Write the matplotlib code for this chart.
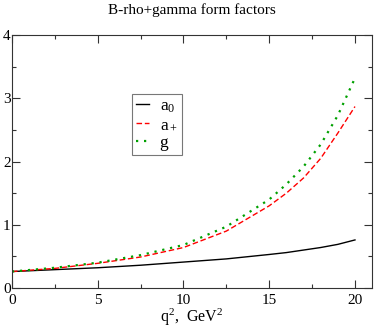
import numpy as np
import matplotlib
matplotlib.use("Agg")
import matplotlib.pyplot as plt
from matplotlib.ticker import MultipleLocator

plt.rcParams['font.family'] = ['Liberation Serif', 'DejaVu Serif']
plt.rcParams['mathtext.fontset'] = 'custom'
plt.rcParams['mathtext.rm'] = 'Liberation Serif'
plt.rcParams['mathtext.it'] = 'Liberation Serif'

# q^2 values (GeV^2) and form factors
q2 = [0, 2.5, 5, 7.5, 10, 12.5, 15, 16, 17, 18, 19, 20]
a0 = [0.26, 0.29, 0.32, 0.36, 0.41, 0.46, 0.53, 0.56, 0.60, 0.64, 0.69, 0.76]
aplus = [0.26, 0.31, 0.39, 0.49, 0.64, 0.90, 1.30, 1.50, 1.74, 2.05, 2.45, 2.87]
g = [0.26, 0.32, 0.40, 0.52, 0.68, 0.97, 1.40, 1.64, 1.92, 2.27, 2.73, 3.32]

fig = plt.figure(figsize=(3.74, 3.28), dpi=100)
ax = fig.add_axes([0.032, 0.122, 0.963, 0.771])

ax.plot(q2, a0, color='black', lw=1.0, label='a$_0$')
ax.plot(q2, aplus, color='red', lw=1.0, ls=(0, (4, 2)), label='a$_+$')
ax.plot(q2, g, color='#00a000', lw=1.6, ls=(0, (1, 2.6)), label='g')

ax.set_xlim(0, 21)
ax.set_ylim(0, 4)
ax.xaxis.set_major_locator(MultipleLocator(5))
ax.xaxis.set_minor_locator(MultipleLocator(2.5))
ax.yaxis.set_major_locator(MultipleLocator(1))
ax.yaxis.set_minor_locator(MultipleLocator(0.5))
ax.tick_params(which='both', direction='in', top=True, right=True,
               labelsize=11, color='#333333')
ax.tick_params(axis='x', pad=4)
ax.tick_params(axis='y', pad=1)
ax.tick_params(which='major', length=6, width=0.8)
ax.tick_params(which='minor', length=3, width=0.8)
for s in ax.spines.values():
    s.set_color('#333333')
    s.set_linewidth(0.8)

ax.set_title('B-rho+gamma form factors', fontsize=11, pad=15)
ax.set_xlabel('q$^2$,  GeV$^2$', fontsize=11.5, labelpad=0)

leg = ax.legend(loc='upper left', bbox_to_anchor=(0.333, 0.767), fontsize=12.5,
                handlelength=0.75, handletextpad=0.6, borderpad=0.25,
                borderaxespad=0, labelspacing=0.1, fancybox=False, framealpha=1)
leg.get_frame().set_edgecolor('#777777')
leg.get_frame().set_linewidth(0.8)

fig.savefig('out.png', dpi=100)
